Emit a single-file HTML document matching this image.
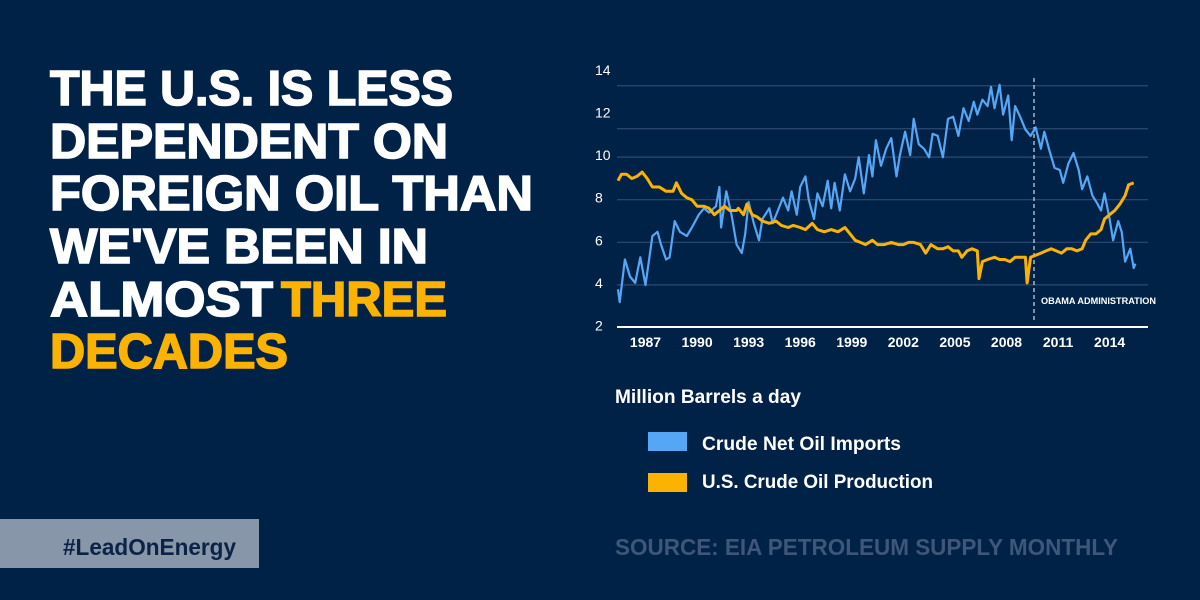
<!DOCTYPE html>
<html><head><meta charset="utf-8"><style>
html,body{margin:0;padding:0;background:#012247;}
svg{display:block;font-family:"Liberation Sans",sans-serif;}
</style></head><body>
<svg width="1200" height="600" viewBox="0 0 1200 600" id="root">
<rect x="0" y="0" width="1200" height="600" fill="#012247"/>
<g font-weight="bold" font-size="49" fill="#ffffff" stroke="#ffffff" stroke-width="1.6">
<text x="50" y="105" textLength="403" lengthAdjust="spacingAndGlyphs">THE U.S. IS LESS</text>
<text x="50" y="158" textLength="398" lengthAdjust="spacingAndGlyphs">DEPENDENT ON</text>
<text x="50" y="210" textLength="483" lengthAdjust="spacingAndGlyphs">FOREIGN OIL THAN</text>
<text x="50" y="263" textLength="378" lengthAdjust="spacingAndGlyphs">WE'VE BEEN IN</text>
<text x="50" y="316" textLength="223" lengthAdjust="spacingAndGlyphs">ALMOST</text>
<text x="281" y="316" textLength="166" lengthAdjust="spacingAndGlyphs" fill="#fbb200" stroke="#fbb200">THREE</text>
<text x="50" y="368" textLength="238" lengthAdjust="spacingAndGlyphs" fill="#fbb200" stroke="#fbb200">DECADES</text>
</g>
<g id="chart"></g>
<text x="615" y="403" font-size="19" font-weight="bold" fill="#fff" textLength="186" lengthAdjust="spacingAndGlyphs">Million Barrels a day</text>
<g>
<rect x="648" y="432" width="39" height="19" fill="#55a7f5"/>
<text x="702" y="450" font-size="19" font-weight="bold" fill="#fff" textLength="199" lengthAdjust="spacingAndGlyphs">Crude Net Oil Imports</text>
<rect x="648" y="473" width="39" height="19" fill="#fbb200"/>
<text x="702" y="488" font-size="19" font-weight="bold" fill="#fff" textLength="231" lengthAdjust="spacingAndGlyphs">U.S. Crude Oil Production</text>
</g>
<rect x="0" y="519" width="259" height="49" fill="#8796a8"/>
<text x="63" y="555" font-size="23" font-weight="bold" fill="#0a2346" textLength="173" lengthAdjust="spacingAndGlyphs">#LeadOnEnergy</text>
<text x="615" y="555" font-size="23" font-weight="bold" fill="#3e5678" textLength="503" lengthAdjust="spacingAndGlyphs">SOURCE: EIA PETROLEUM SUPPLY MONTHLY</text>
</svg>
<script>
const yTicks=[2,4,6,8,10,12,14];
const xTickYears=[1987,1990,1993,1996,1999,2002,2005,2008,2011,2014];
const importYears=[1986.0,1986.1,1986.4,1986.7,1987.0,1987.3,1987.6,1988.0,1988.3,1988.5,1988.8,1989.0,1989.3,1989.6,1990.0,1990.3,1990.7,1991.0,1991.3,1991.7,1991.9,1992.0,1992.3,1992.6,1992.9,1993.2,1993.4,1993.6,1993.9,1994.2,1994.4,1994.8,1995.0,1995.3,1995.6,1995.9,1996.1,1996.4,1996.6,1996.9,1997.1,1997.4,1997.6,1997.9,1998.2,1998.4,1998.6,1998.9,1999.2,1999.5,1999.8,2000.0,2000.3,2000.6,2000.8,2001.0,2001.3,2001.6,2001.9,2002.2,2002.4,2002.7,2003.0,2003.2,2003.5,2003.8,2004.1,2004.3,2004.6,2004.9,2005.2,2005.5,2005.8,2006.1,2006.4,2006.7,2006.9,2007.2,2007.5,2007.7,2007.9,2008.2,2008.4,2008.7,2008.9,2009.1,2009.4,2009.7,2010.0,2010.3,2010.6,2010.8,2011.1,2011.4,2011.7,2011.9,2012.2,2012.5,2012.8,2013.0,2013.3,2013.6,2013.9,2014.1,2014.3,2014.6,2014.8,2015.1,2015.3,2015.5,2015.8,2016.0,2016.1];
const importValues=[3.7,3.1,5.1,4.3,4.0,5.2,3.9,6.2,6.4,5.8,5.1,5.2,6.9,6.4,6.2,6.6,7.2,7.5,7.3,7.6,8.5,6.6,8.3,7.2,5.8,5.4,6.3,7.8,6.8,6.0,7.0,7.5,6.8,7.4,8.0,7.4,8.3,7.2,8.5,9.0,7.9,7.0,8.2,7.6,8.8,7.5,8.7,7.4,9.1,8.3,8.9,9.9,8.2,10.0,9.0,10.7,9.5,10.3,10.8,9.0,10.0,11.1,10.0,11.7,10.5,10.3,9.9,11.0,10.9,9.9,11.7,11.8,10.9,12.2,11.6,12.5,11.9,12.6,12.3,13.2,12.2,13.3,11.9,12.8,10.7,12.3,11.8,11.2,10.9,11.3,10.3,11.1,10.2,9.4,9.3,8.7,9.6,10.1,9.3,8.4,9.0,8.1,7.7,7.4,8.2,7.0,6.0,6.9,6.4,5.0,5.6,4.7,4.9];
const prodYears=[1986.0,1986.2,1986.5,1986.8,1987.1,1987.4,1987.7,1988.0,1988.4,1988.8,1989.2,1989.4,1989.7,1990.0,1990.3,1990.6,1991.0,1991.3,1991.6,1991.9,1992.2,1992.5,1992.9,1993.0,1993.3,1993.5,1993.8,1994.1,1994.4,1994.8,1995.2,1995.5,1995.9,1996.2,1996.6,1996.9,1997.3,1997.6,1998.0,1998.4,1998.8,1999.2,1999.5,1999.8,2000.1,2000.4,2000.8,2001.1,2001.5,2001.9,2002.3,2002.6,2002.9,2003.2,2003.6,2003.9,2004.2,2004.6,2004.9,2005.2,2005.5,2005.8,2006.0,2006.3,2006.6,2006.9,2007.0,2007.2,2007.5,2007.9,2008.2,2008.5,2008.8,2009.1,2009.4,2009.7,2009.8,2010.0,2010.3,2010.6,2010.9,2011.2,2011.5,2011.8,2012.1,2012.4,2012.7,2013.0,2013.2,2013.5,2013.8,2014.1,2014.3,2014.6,2014.9,2015.2,2015.5,2015.7,2016.0];
const prodValues=[8.8,9.1,9.1,8.9,9.0,9.2,8.9,8.5,8.5,8.3,8.3,8.7,8.2,8.0,7.9,7.6,7.6,7.5,7.2,7.4,7.6,7.4,7.4,7.5,7.2,7.7,7.2,7.1,6.9,6.8,6.9,6.7,6.6,6.7,6.6,6.5,6.8,6.5,6.4,6.5,6.4,6.6,6.3,6.0,5.9,5.8,6.0,5.8,5.8,5.9,5.8,5.8,5.9,5.9,5.8,5.4,5.8,5.6,5.6,5.7,5.5,5.5,5.2,5.5,5.6,5.5,4.2,5.0,5.1,5.2,5.1,5.1,5.0,5.2,5.2,5.2,4.0,5.2,5.3,5.4,5.5,5.6,5.5,5.4,5.6,5.6,5.5,5.6,6.0,6.3,6.3,6.5,7.0,7.2,7.4,7.7,8.1,8.6,8.7];
const obamaYear=2010.2;
const extraGrid=[13.35,11.33];

const NS='http://www.w3.org/2000/svg';
const g=document.getElementById('chart');
const xS=yr=>618+(yr-1986)*17.19;
const yS=v=>325.5-(v-2)*21.3;
function mk(tag,attrs){const e=document.createElementNS(NS,tag);for(const k in attrs)e.setAttribute(k,attrs[k]);g.appendChild(e);return e;}

extraGrid.concat([4,6,8,10]).forEach(v=>{
  const l=mk('line',{x1:617,x2:1148,y1:yS(v)+2,y2:yS(v)+2,stroke:'#2c4a72','stroke-width':1.2});
  
  
});
yTicks.forEach(v=>{
  const t=mk('text',{x:595,y:yS(v)+5,'font-size':14,fill:'#fff'});
  t.textContent=v;
  
  
});
const base=mk('line',{x1:617,x2:1148,y1:327,y2:327,stroke:'#fff','stroke-width':2});


xTickYears.forEach(yr=>{
  const t=mk('text',{x:xS(yr+0.6),y:347,'font-size':14,'font-weight':'bold',fill:'#fff','text-anchor':'middle'});
  t.textContent=yr;
  
  
});
const dash=mk('line',{x1:xS(obamaYear),x2:xS(obamaYear),y1:78,y2:320,stroke:'#fff','stroke-width':1,'stroke-dasharray':'4,3'});


const ot=mk('text',{x:xS(obamaYear)+7,y:304,'font-size':9,'font-weight':'bold',fill:'#fff',textLength:115,lengthAdjust:'spacingAndGlyphs'});
ot.textContent='OBAMA ADMINISTRATION';



function path(xs,vs){return xs.map((yr,i)=>(i?'L':'M')+xS(yr).toFixed(1)+' '+yS(vs[i]).toFixed(1)).join(' ');}
const pi=mk('path',{d:path(importYears,importValues),fill:'none',stroke:'#55a7f5','stroke-width':2.2,'stroke-linejoin':'round'});


const pp=mk('path',{d:path(prodYears,prodValues),fill:'none',stroke:'#fbb200','stroke-width':3,'stroke-linejoin':'round'});


</script>
</body></html>
